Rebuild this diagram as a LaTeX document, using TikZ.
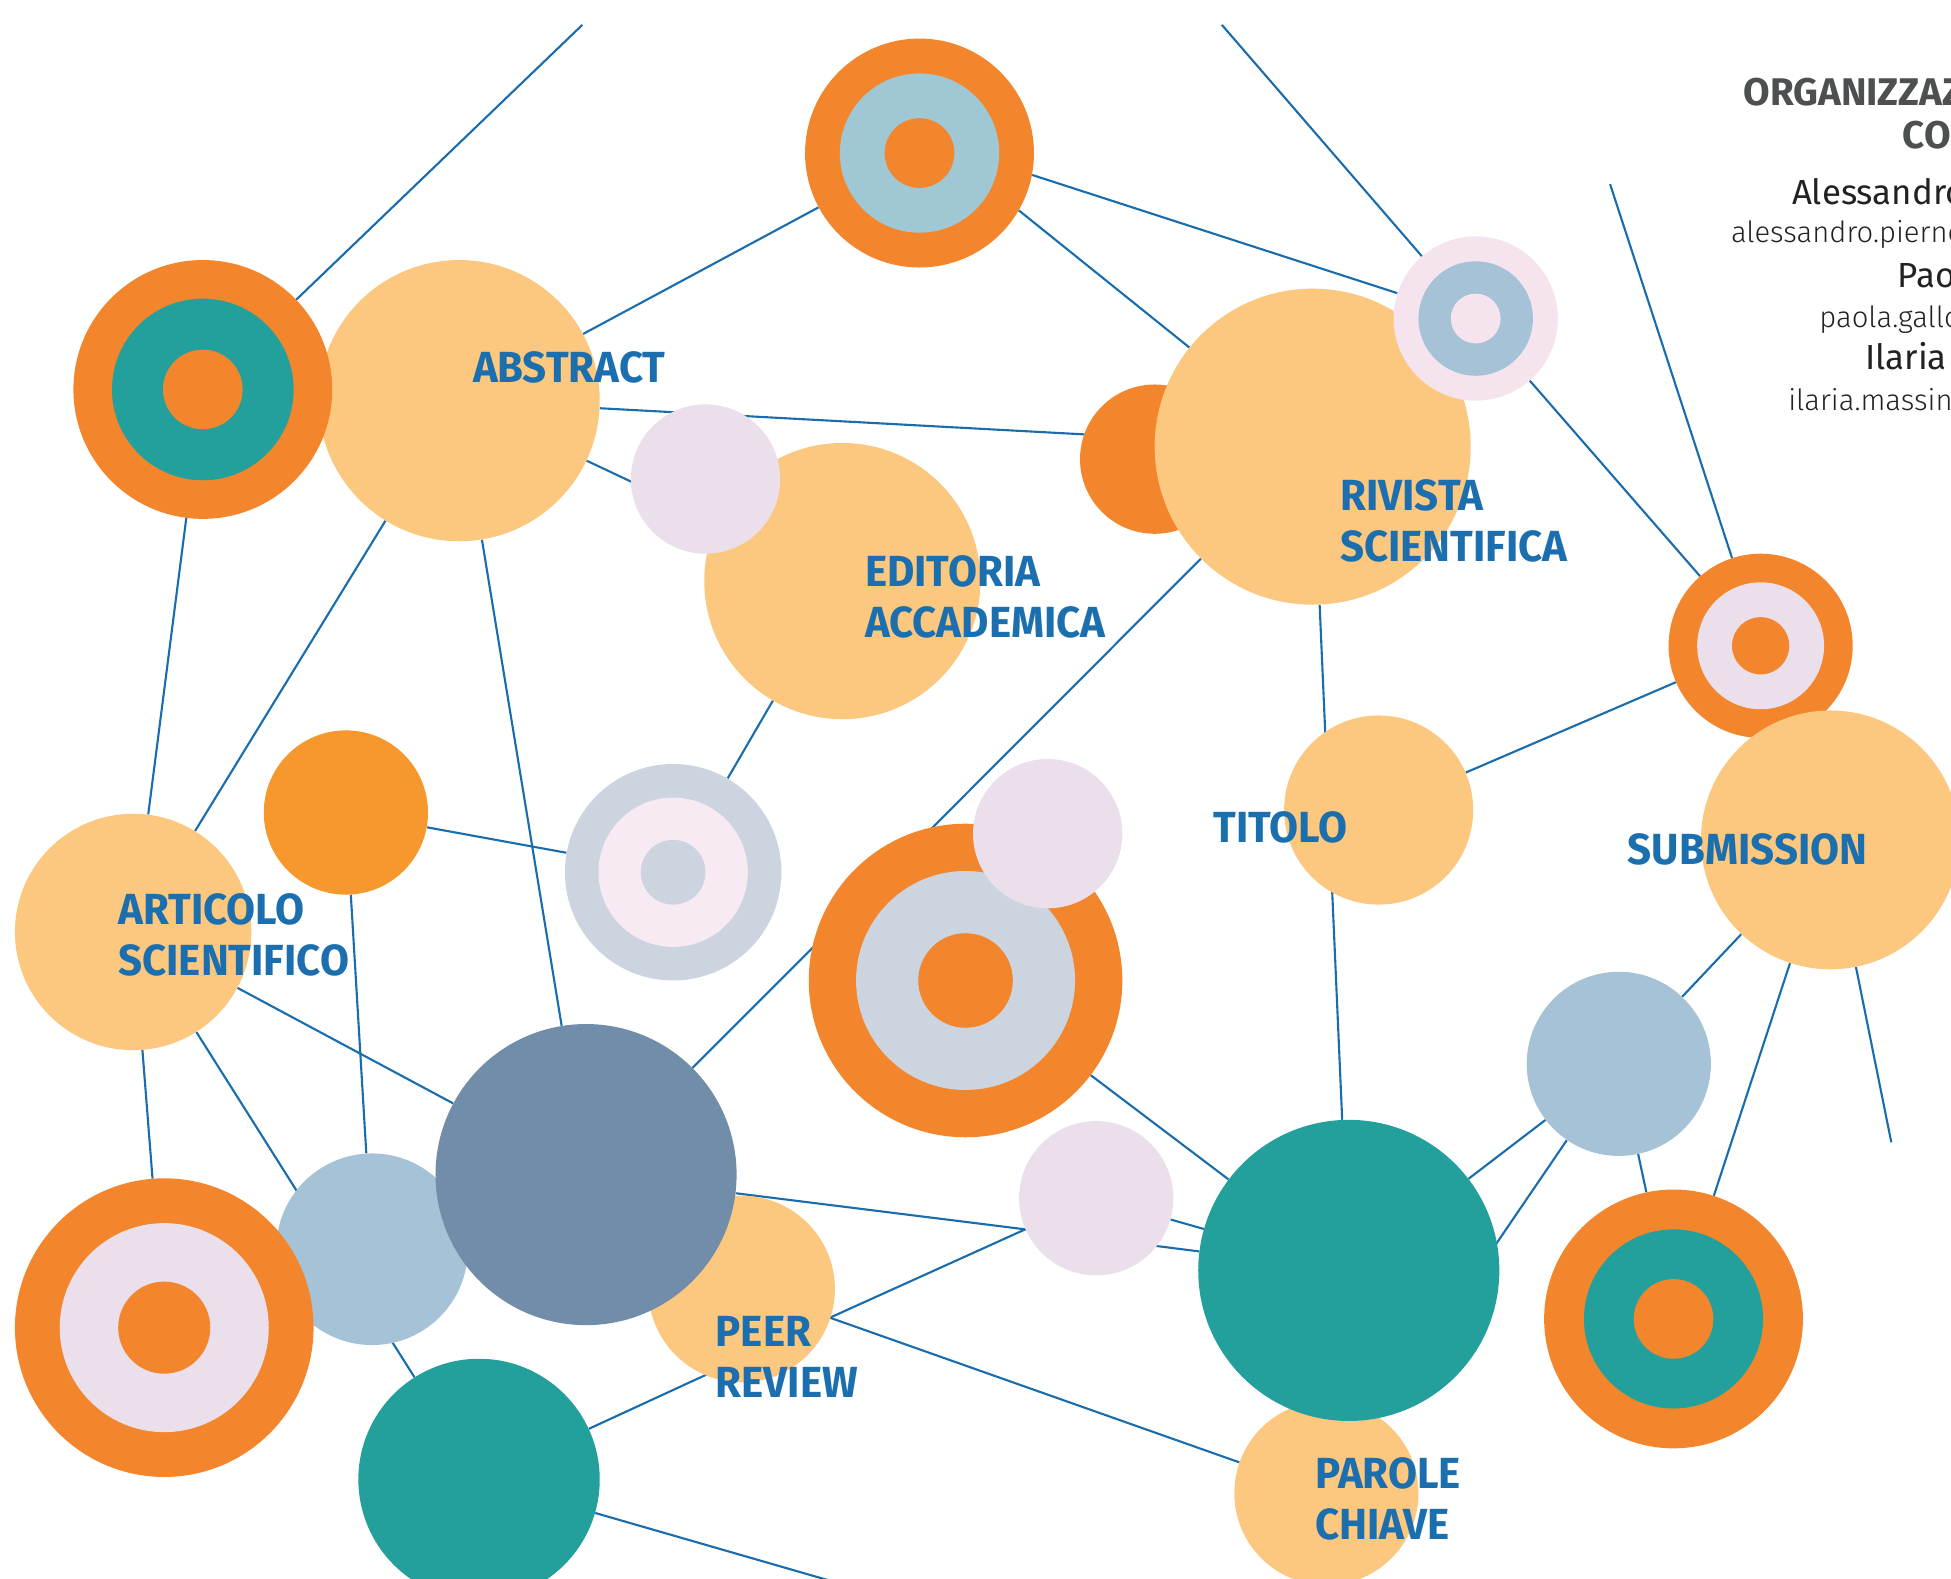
\documentclass[tikz,border=0pt]{standalone}
\usepackage{fontspec}
\setmainfont{Fira Sans}
\newfontfamily\lblfont{Fira Sans}[FakeStretch=0.965]
\newfontfamily\headfont{Fira Sans}
\newfontfamily\lightfont{Fira Sans Light}
\usetikzlibrary{calc}

\definecolor{orng}{HTML}{F3862C}
\definecolor{orng2}{HTML}{F6982D}
\definecolor{peach}{HTML}{FCC77F}
\definecolor{teal}{HTML}{23A09B}
\definecolor{skyblue}{HTML}{9FC7D4}
\definecolor{lblue}{HTML}{A5C2D6}
\definecolor{slate}{HTML}{728DAA}
\definecolor{lav}{HTML}{EBDFEC}
\definecolor{pink}{HTML}{F5E3EE}
\definecolor{pale}{HTML}{F7EAF3}
\definecolor{greyb}{HTML}{CCD4DF}
\definecolor{lineblue}{HTML}{1A6DAD}
\definecolor{txtblue}{HTML}{1B6FAE}
\definecolor{txtgrey}{HTML}{4D5051}
\definecolor{txtdark}{HTML}{222222}

\pgfdeclarelayer{bg}
\pgfsetlayers{bg,main}

\tikzset{
  disc/.style={circle, fill=#1, draw=none, inner sep=0pt},
  link/.style={draw=lineblue, line width=1.7pt},
  lbl/.style={anchor=north west, inner sep=0pt, align=left, text=txtblue,
    font=\lblfont\bfseries\fontsize{35}{41}\selectfont},
  info/.style={anchor=base west, inner sep=0pt}
}

\begin{document}
\begin{tikzpicture}[x=1pt,y=-1pt]
\useasboundingbox (0,0) rectangle (1568,1269);
\clip (0,0) rectangle (1568,1269);

% circles, back to front
\node[disc=peach, minimum size=226pt] (abs) at (369,322) {};
\node[disc=orng, minimum size=208pt] (tl) at (163,313) {};
\node[disc=teal, minimum size=146pt] (tl-m) at (tl) {};
\node[disc=orng, minimum size=64pt] (tl-i) at (tl) {};
\node[disc=orng, minimum size=184pt] (top) at (739,123) {};
\node[disc=skyblue, minimum size=128pt] (top-m) at (top) {};
\node[disc=orng, minimum size=56pt] (top-i) at (top) {};
\node[disc=peach, minimum size=222pt] (edit) at (677,467) {};
\node[disc=lav, minimum size=120pt] (lav1) at (567,385) {};
\node[disc=orng, minimum size=120pt] (org1) at (928,369) {};
\node[disc=peach, minimum size=254pt] (riv) at (1055,359) {};
\node[disc=pink, minimum size=132pt] (pink) at (1186,256) {};
\node[disc=lblue, minimum size=92pt] (pink-m) at (pink) {};
\node[disc=pink, minimum size=40pt] (pink-i) at (pink) {};
\node[disc=orng, minimum size=148pt] (rtg) at (1415,519) {};
\node[disc=lav, minimum size=102pt] (rtg-m) at (rtg) {};
\node[disc=orng, minimum size=46pt] (rtg-i) at (rtg) {};
\node[disc=peach, minimum size=208pt] (sub) at (1471,675) {};
\node[disc=peach, minimum size=152pt] (tit) at (1108,651) {};
\node[disc=orng2, minimum size=132pt] (org2) at (278,653) {};
\node[disc=greyb, minimum size=174pt] (grey) at (541,701) {};
\node[disc=pale, minimum size=120pt] (grey-m) at (grey) {};
\node[disc=greyb, minimum size=52pt] (grey-i) at (grey) {};
\node[disc=orng, minimum size=252pt] (big) at (776,788) {};
\node[disc=greyb, minimum size=176pt] (big-m) at (big) {};
\node[disc=orng, minimum size=76pt] (big-i) at (big) {};
\node[disc=lav, minimum size=120pt] (lav2) at (842,670) {};
\node[disc=peach, minimum size=190pt] (art) at (107,749) {};
\node[disc=lblue, minimum size=154pt] (lblue1) at (299,1004) {};
\node[disc=peach, minimum size=150pt] (peer) at (596,1036) {};
\node[disc=slate, minimum size=242pt] (slate) at (471,944) {};
\node[disc=orng, minimum size=240pt] (bltg) at (132,1067) {};
\node[disc=lav, minimum size=168pt] (bltg-m) at (bltg) {};
\node[disc=orng, minimum size=74pt] (bltg-i) at (bltg) {};
\node[disc=teal, minimum size=194pt] (teal1) at (385,1189) {};
\node[disc=lav, minimum size=124pt] (lav3) at (881,963) {};
\node[disc=peach, minimum size=148pt] (par) at (1066,1200) {};
\node[disc=teal, minimum size=242pt] (teal2) at (1084,1021) {};
\node[disc=lblue, minimum size=148pt] (lblue2) at (1301,855) {};
\node[disc=orng, minimum size=208pt] (brtg) at (1345,1060) {};
\node[disc=teal, minimum size=144pt] (brtg-m) at (brtg) {};
\node[disc=orng, minimum size=64pt] (brtg-i) at (brtg) {};

% loose ends and meeting points
\coordinate (f1) at (468,20);
\coordinate (f2) at (982,20);
\coordinate (f3) at (1294,148);
\coordinate (f4) at (1520,918);
\coordinate (f5) at (690,1277);
\coordinate (pr) at (667,1059);
\coordinate (vh) at (824,988);

\begin{pgfonlayer}{bg}
\foreach \a/\b in {tl/f1, tl/art, abs/top, abs/riv, abs/edit, abs/art, abs/slate,
    pink/f2, pink/rtg, rtg/f3, rtg/tit, riv/teal2, riv/slate, edit/grey,
    org2/grey, org2/lblue1, art/slate, art/bltg, art/teal1, teal1/pr, teal1/f5,
    pr/vh, pr/par, slate/vh, vh/teal2, lav3/teal2, big/teal2, teal2/lblue2,
    par/lblue2, lblue2/sub, lblue2/brtg, brtg/sub, sub/f4}
  \draw[link] (\a) -- (\b);
\draw[link] (top.-11) -- (pink);
\draw[link] (top.-30) -- (riv);
\end{pgfonlayer}

% labels
\node[lbl] (abs-l) at (380,282) {ABSTRACT};
\node[lbl] (edit-l) at (695,446) {EDITORIA\\ACCADEMICA};
\node[lbl] (riv-l) at (1077,385) {RIVISTA\\SCIENTIFICA};
\node[lbl] (tit-l) at (975,652) {TITOLO};
\node[lbl] (sub-l) at (1308,670) {SUBMISSION};
\node[lbl] (art-l) at (95,718) {ARTICOLO\\SCIENTIFICO};
\node[lbl] (peer-l) at (575,1058) {PEER\\REVIEW};
\node[lbl] (par-l) at (1057,1171) {PAROLE\\CHIAVE};

% contacts, cut by the right edge
\node[info, text=txtgrey, font=\headfont\bfseries\fontsize{31}{36}\selectfont] (org-h1) at (1401,85) {ORGANIZZAZIONE};
\node[info, text=txtgrey, font=\headfont\bfseries\fontsize{31}{36}\selectfont] (org-h2) at (1529,119) {CON};
\node[info, text=txtdark, font=\fontsize{28}{34}\selectfont] (name1) at (1440,164) {Alessandro};
\node[info, text=txtdark, font=\lightfont\fontsize{23.5}{28}\selectfont] (mail1) at (1391,195) {alessandro.pierno};
\node[info, text=txtdark, font=\fontsize{28}{34}\selectfont] (name2) at (1525,231) {Paola};
\node[info, text=txtdark, font=\lightfont\fontsize{23.5}{28}\selectfont] (mail2) at (1462,263) {paola.gallo};
\node[info, text=txtdark, font=\fontsize{28}{34}\selectfont] (name3) at (1499,297) {Ilaria M};
\node[info, text=txtdark, font=\lightfont\fontsize{23.5}{28}\selectfont] (mail3) at (1437,330) {ilaria.massin};
\end{tikzpicture}
\end{document}
